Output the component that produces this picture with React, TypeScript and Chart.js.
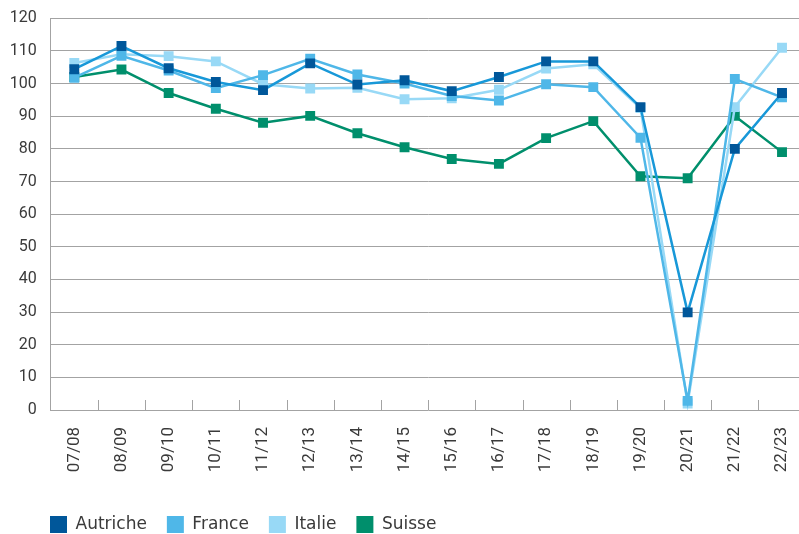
import { useEffect, useRef } from 'react';
import { Chart, registerables } from 'chart.js';

Chart.register(...registerables);

const categories = ['07/08', '08/09', '09/10', '10/11', '11/12', '12/13', '13/14', '14/15', '15/16', '16/17', '17/18', '18/19', '19/20', '20/21', '21/22', '22/23'];

const seriesNames = ['Autriche', 'France', 'Italie', 'Suisse'];
const autriche = [104.4, 111.5, 104.7, 100.5, 98.0, 106.2, 99.7, 101.0, 97.7, 102.0, 106.8, 106.8, 92.8, 29.9, 80.0, 97.1];
const france = [101.8, 108.5, 104.0, 98.6, 102.6, 107.6, 102.8, 100.0, 96.2, 94.8, 99.8, 98.9, 83.4, 2.8, 101.4, 95.8];
const italie = [106.3, 109.0, 108.4, 106.8, 99.8, 98.5, 98.7, 95.2, 95.5, 98.1, 104.6, 105.9, 92.5, 2.0, 92.8, 111.0];
const suisse = [102.0, 104.3, 97.1, 92.3, 88.0, 90.1, 84.8, 80.5, 76.9, 75.4, 83.3, 88.5, 71.6, 71.0, 90.1, 79.0];

const markerColors = ['#00579a', '#4fb7e8', '#98d9f6', '#008f6c'];
const lineColors = ['#1898d8', '#4fb7e8', '#98d9f6', '#008f6c'];

const yMin = 0;
const yMax = 120;
const yStep = 10;

const GRID = '#a3a3a3';
const TEXT = '#3a3a3a';

const innerTicks = {
  id: 'innerTicks',
  afterLayout(chart: any) {
    if (chart.legend) {
      chart.legend.left += 22;
      chart.legend.right += 22;
    }
  },
  beforeDatasetsDraw(chart: any) {
    const xs = chart.scales.x;
    const ys = chart.scales.y;
    const ctx = chart.ctx;
    const y0 = Math.round(ys.getPixelForValue(0));
    ctx.save();
    ctx.strokeStyle = GRID;
    ctx.lineWidth = 1;
    for (let i = 1; i < categories.length; i++) {
      const px = Math.round((xs.getPixelForValue(i - 1) + xs.getPixelForValue(i)) / 2) + 0.5;
      ctx.beginPath();
      ctx.moveTo(px, y0 - 10);
      ctx.lineTo(px, y0);
      ctx.stroke();
    }
    ctx.restore();
  },
};

export default function App() {
  const ref = useRef<HTMLCanvasElement>(null);
  useEffect(() => {
    const all = [autriche, france, italie, suisse];
    const chart = new Chart(ref.current!, {
      type: 'line',
      data: {
        labels: categories,
        datasets: all.map((d, i) => ({
          label: seriesNames[i],
          data: d,
          borderColor: lineColors[i],
          backgroundColor: markerColors[i],
          pointBackgroundColor: markerColors[i],
          pointBorderColor: markerColors[i],
          pointBorderWidth: 0,
          pointRadius: 7,
          pointStyle: 'rect',
          borderWidth: 2.5,
          tension: 0,
          fill: false,
        })),
      },
      options: {
        responsive: false,
        animation: false,
        layout: { padding: { left: 8, top: 18.3, right: 24.4, bottom: 0 } },
        scales: {
          x: {
            type: 'category',
            offset: true,
            grid: { display: false },
            border: { display: false },
            ticks: {
              autoSkip: false,
              minRotation: 90,
              maxRotation: 90,
              padding: 9,
              color: TEXT,
              font: { family: 'Roboto', size: 17 },
            },
            afterFit: (s: any) => {
              s.height = 86;
              s.paddingLeft = 0;
              s.paddingRight = 0;
            },
          },
          y: {
            min: yMin,
            max: yMax,
            ticks: {
              stepSize: yStep,
              padding: 14,
              color: TEXT,
              font: { family: 'Roboto', size: 16 },
            },
            grid: { color: GRID, lineWidth: 1, drawTicks: false },
            border: { display: true, color: GRID, width: 1 },
            afterFit: (s: any) => {
              s.width = 42.7;
              s.paddingTop = 0;
              s.paddingBottom = 0;
            },
          },
        },
        plugins: {
          tooltip: { enabled: false },
          legend: {
            position: 'bottom',
            align: 'start',
            labels: {
              boxWidth: 17,
              boxHeight: 17,
              padding: 20,
              color: TEXT,
              font: { family: 'DejaVu Sans', size: 17 },
              generateLabels: (c: any) =>
                Chart.defaults.plugins.legend.labels.generateLabels(c).map((l: any) => ({
                  ...l,
                  fillStyle: markerColors[l.datasetIndex],
                  strokeStyle: markerColors[l.datasetIndex],
                  lineWidth: 0,
                })),
            },
          },
        },
      },
      plugins: [innerTicks],
    } as any);
    return () => chart.destroy();
  }, []);
  return (
    <div style={{ position: 'fixed', left: 0, top: 0, width: 799, height: 534, overflow: 'hidden', background: '#fff' }}>
      <canvas ref={ref} width={830} height={543} style={{ display: 'block' }} />
    </div>
  );
}
